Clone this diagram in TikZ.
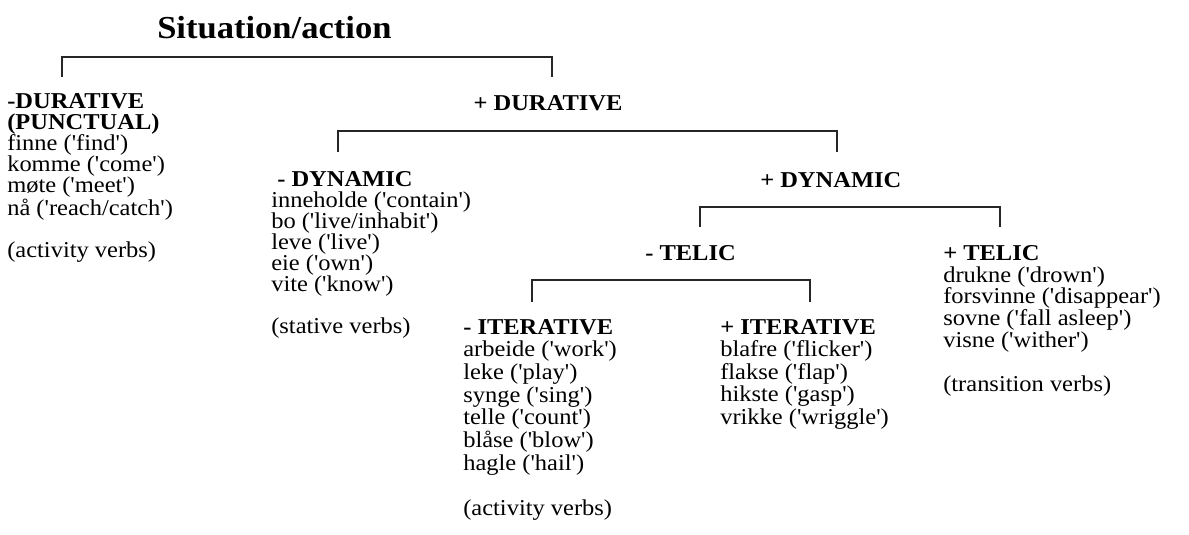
\documentclass[tikz,border=0pt]{standalone}
\usepackage{fontspec}
\setmainfont{Liberation Serif}[Ligatures=TeXOff, FakeStretch=1.08]
\tikzset{
  ttl/.style={font=\fontsize{24}{26}\selectfont\bfseries, inner sep=0pt, anchor=base west},
  hd/.style={font=\fontsize{17}{15.75}\selectfont\bfseries, inner sep=0pt, anchor=base west, align=left},
  bd/.style={font=\fontsize{17}{15.75}\selectfont, inner sep=0pt, anchor=base west, align=left},
  bdm/.style={font=\fontsize{17}{16.35}\selectfont, inner sep=0pt, anchor=base west, align=left},
  bdw/.style={font=\fontsize{17}{17}\selectfont, inner sep=0pt, anchor=base west, align=left},
  brk/.style={line width=1pt, black!85, line join=miter}
}
\begin{document}
\begin{tikzpicture}[x=0.75pt,y=-0.75pt]
\fill[white] (0,0) rectangle (1189,535);
\useasboundingbox (0,0) rectangle (1189,535);

% title (multi-line nodes are anchored at the baseline of their last line)
\node[ttl] (title) at (157,39) {Situation/action};

% bracket 1
\coordinate (b1l) at (62,57);  \coordinate (b1r) at (552,57);
\coordinate (l1a) at (62,77);  \coordinate (l1b) at (552,77);
\draw[brk] (l1a) -- (b1l) -- (b1r) -- (l1b);

% -DURATIVE column
\node[hd] (mdur) at (7,129) {-DURATIVE\\(PUNCTUAL)};
\node[bd] (mdurL) at (7,257) {finne ('find')\\komme ('come')\\møte ('meet')\\nå ('reach/catch')\\[15.75pt](activity verbs)};

% + DURATIVE
\node[hd, anchor=base] (pdur) at (548,111) {+ DURATIVE};

% bracket 2
\coordinate (b2l) at (338,131); \coordinate (b2r) at (837,131);
\coordinate (l2a) at (338,152); \coordinate (l2b) at (837,152);
\draw[brk] (l2a) -- (b2l) -- (b2r) -- (l2b);

% - DYNAMIC column
\node[hd] (mdyn) at (277,186) {- DYNAMIC};
\node[bd] (mdynL) at (271,333) {inneholde ('contain')\\bo ('live/inhabit')\\leve ('live')\\eie ('own')\\vite ('know')\\[15.75pt](stative verbs)};

% + DYNAMIC
\node[hd] (pdyn) at (760,187) {+ DYNAMIC};

% bracket 3
\coordinate (b3l) at (700,207); \coordinate (b3r) at (1000,207);
\coordinate (l3a) at (700,227); \coordinate (l3b) at (1000,227);
\draw[brk] (l3a) -- (b3l) -- (b3r) -- (l3b);

% - TELIC
\node[hd] (mtel) at (645,260) {- TELIC};

% + TELIC column
\node[hd] (ptel) at (943,260) {+ TELIC};
\node[bdm] (ptelL) at (943,391) {drukne ('drown')\\forsvinne ('disappear')\\sovne ('fall asleep')\\visne ('wither')\\[16.35pt](transition verbs)};

% bracket 4
\coordinate (b4l) at (532,280); \coordinate (b4r) at (810,280);
\coordinate (l4a) at (532,302); \coordinate (l4b) at (810,302);
\draw[brk] (l4a) -- (b4l) -- (b4r) -- (l4b);

% - ITERATIVE column
\node[hd] (mit) at (463,334) {- ITERATIVE};
\node[bdw] (mitL) at (463,515.5) {arbeide ('work')\\leke ('play')\\synge ('sing')\\telle ('count')\\blåse ('blow')\\hagle ('hail')\\[17pt](activity verbs)};

% + ITERATIVE column
\node[hd] (pit) at (720,334) {+ ITERATIVE};
\node[bdw] (pitL) at (720,424.5) {blafre ('flicker')\\flakse ('flap')\\hikste ('gasp')\\vrikke ('wriggle')};
\end{tikzpicture}
\end{document}
